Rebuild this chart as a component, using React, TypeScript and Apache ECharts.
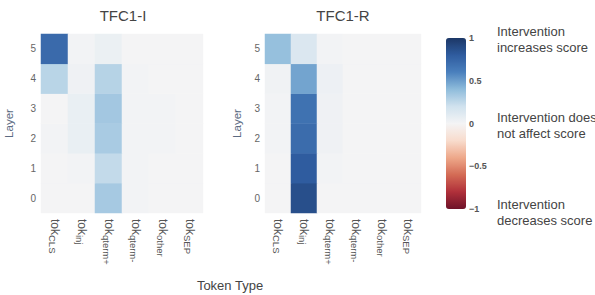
import React, { useEffect, useRef } from "react";
import * as echarts from "echarts";

const tokens = ["CLS", "inj", "qterm+", "qterm-", "other", "SEP"];
const layers = ["0", "1", "2", "3", "4", "5"];
const colorTicks = [-1, -0.5, 0, 0.5, 1];

// rows = layers 0..5, columns = tokens
const tfc1I = [
  [0.0, 0.0, 0.33, 0.01, 0.0, 0.0],
  [0.0, 0.01, 0.24, 0.01, 0.0, 0.0],
  [0.01, 0.06, 0.32, 0.01, 0.01, 0.0],
  [0.0, 0.06, 0.34, 0.01, 0.01, 0.0],
  [0.27, 0.03, 0.28, 0.01, 0.0, 0.0],
  [0.72, 0.01, 0.05, 0.0, 0.0, 0.0],
];
const tfc1R = [
  [0.0, 0.87, 0.0, 0.0, 0.0, 0.0],
  [0.0, 0.8, 0.01, 0.0, 0.0, 0.0],
  [0.01, 0.71, 0.03, 0.0, 0.0, 0.0],
  [0.01, 0.68, 0.03, 0.0, 0.0, 0.0],
  [0.02, 0.48, 0.04, 0.0, 0.0, 0.0],
  [0.38, 0.14, 0.01, 0.0, 0.0, 0.0],
];
const titles = ["TFC1-I", "TFC1-R"];
const notes = [
  "Intervention\nincreases score",
  "Intervention does\nnot affect score",
  "Intervention\ndecreases score",
];

const RdBu = [
  "#6e1228", "#b0303a", "#d36b55", "#eea88a", "#f8dccd", "#f4f4f5",
  "#d0e2ee", "#8fbcdb", "#4a80bd", "#2f5c9f", "#1c3766",
];

const FONT = "Liberation Sans, Arial, sans-serif";

function toCells(m: number[][]) {
  const out: number[][] = [];
  m.forEach((row, y) => row.forEach((v, x) => out.push([x, y, v])));
  return out;
}

export default function App() {
  const ref = useRef<HTMLDivElement>(null);
  useEffect(() => {
    document.body.style.margin = "0";
    const chart = echarts.init(ref.current!, null, { renderer: "svg" });
    const grids = [
      { left: 41, top: 34, width: 162, height: 179 },
      { left: 265, top: 34, width: 156, height: 179 },
      { left: 446, top: 38, width: 20, height: 171 },
    ];
    const xAxisFor = (gi: number) => ({
      type: "category",
      gridIndex: gi,
      data: tokens,
      axisLine: { show: false },
      axisTick: { show: false },
      splitLine: { show: false },
      axisLabel: {
        rotate: -90,
        margin: 6,
        interval: 0,
        color: "#555",
        fontFamily: FONT,
        formatter: (v: string) => `{a|tok}{s|${v}}`,
        rich: {
          a: { fontSize: 12, color: "#555", fontFamily: FONT, verticalAlign: "middle" },
          s: { fontSize: 9.5, color: "#555", fontFamily: FONT, verticalAlign: "bottom", padding: [4, 0, 0, 0] },
        },
      },
    });
    const yAxisFor = (gi: number) => ({
      type: "category",
      gridIndex: gi,
      data: layers,
      name: "Layer",
      nameLocation: "middle",
      nameGap: gi === 0 ? 26 : 22,
      nameRotate: 90,
      nameTextStyle: { color: "#5b6b82", fontSize: 11.5, fontFamily: FONT },
      axisLine: { show: false },
      axisTick: { show: false },
      splitLine: { show: false },
      axisLabel: { color: "#666", fontSize: 10, margin: 5, fontFamily: FONT },
    });
    chart.setOption({
      animation: false,
      backgroundColor: "#ffffff",
      grid: grids,
      xAxis: [
        xAxisFor(0),
        xAxisFor(1),
        { type: "value", gridIndex: 2, show: false, min: 0, max: 1 },
      ],
      yAxis: [
        yAxisFor(0),
        yAxisFor(1),
        {
          type: "value",
          gridIndex: 2,
          position: "right",
          min: -1,
          max: 1,
          interval: 0.5,
          axisLine: { show: false },
          axisTick: { show: false },
          splitLine: { show: false },
          axisLabel: {
            margin: 3,
            fontSize: 9,
            fontWeight: "bold",
            color: "#555",
            fontFamily: FONT,
            customValues: colorTicks,
            formatter: (v: number) => String(v).replace("-", "\u2212"),
          },
        },
      ],
      visualMap: {
        type: "continuous",
        min: -1,
        max: 1,
        seriesIndex: [0, 1],
        show: true,
        calculable: false,
        text: null,
        showLabel: false,
        left: 446,
        top: 38,
        itemWidth: 20,
        itemHeight: 171,
        padding: 0,
        inRange: { color: RdBu },
      },
      series: [
        {
          type: "heatmap",
          xAxisIndex: 0,
          yAxisIndex: 0,
          data: toCells(tfc1I),
          itemStyle: { borderWidth: 0 },
          emphasis: { disabled: true },
        },
        {
          type: "heatmap",
          xAxisIndex: 1,
          yAxisIndex: 1,
          data: toCells(tfc1R),
          itemStyle: { borderWidth: 0 },
          emphasis: { disabled: true },
        },
      ],
      graphic: [
        {
          type: "text",
          x: 123,
          y: 15,
          style: { text: titles[0], fontSize: 15, fill: "#444", fontFamily: FONT, align: "center", verticalAlign: "middle" },
        },
        {
          type: "text",
          x: 343,
          y: 15,
          style: { text: titles[1], fontSize: 15, fill: "#444", fontFamily: FONT, align: "center", verticalAlign: "middle" },
        },
        {
          type: "text",
          x: 230,
          y: 285,
          style: { text: "Token Type", fontSize: 13, fill: "#444", fontFamily: FONT, align: "center", verticalAlign: "middle" },
        },
        ...notes.map((t, i) => ({
          type: "text",
          x: 497,
          y: [24, 110, 197][i],
          style: { text: t, fontSize: 13, lineHeight: 15.5, fill: "#444", fontFamily: FONT, align: "left", verticalAlign: "top" },
        })),
      ],
    });
    return () => chart.dispose();
  }, []);
  return <div ref={ref} style={{ width: 595, height: 295 }} />;
}
